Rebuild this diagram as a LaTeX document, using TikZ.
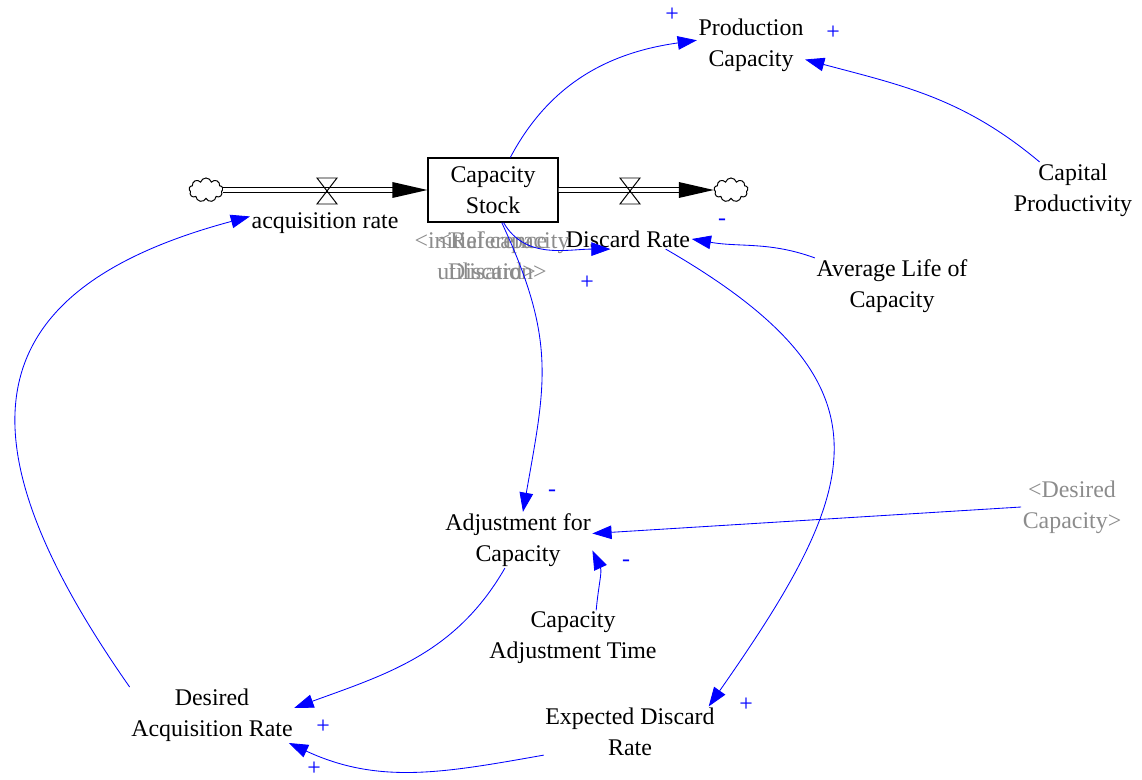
\documentclass[tikz,border=0pt]{standalone}
\usepackage{fontspec}
\setmainfont{Liberation Serif}
\usetikzlibrary{arrows.meta,shapes.symbols,calc}
\definecolor{link}{HTML}{0000FF}
\definecolor{ghost}{HTML}{8C8C8C}

\begin{document}
\begin{tikzpicture}[x=0.025cm, y=-0.025cm,
  v/.style={font=\fontsize{17}{22}\selectfont, align=center, inner sep=1pt},
  g/.style={v, text=ghost},
  lv/.style={v, draw, line width=0.9pt, minimum width=3.25cm, minimum height=1.6cm},
  cl/.style={cloud, cloud puffs=9, draw, line width=0.7pt, minimum width=0.85cm,
    minimum height=0.6cm, inner sep=0pt},
  pipe/.style={double distance=2.6pt, line width=0.7pt},
  lk/.style={-{Triangle[length=4.8mm, width=3.4mm]}, link, line width=0.6pt},
  pol/.style={font=\fontsize{17}{17}\selectfont, text=link, inner sep=0pt}]
  \useasboundingbox (0,0) rectangle (1142,780);

  % stock, clouds and the two flows
  \node[lv] (stock) at (493,190) {Capacity\\Stock};
  \node[cl] (src)  at (206,190) {};
  \node[cl] (sink) at (731,190) {};
  \draw[pipe] (src.east) -- ($(stock.west)+(-30,0)$);
  \fill ($(stock.west)+(-35,-8)$) -- (stock.west) -- ($(stock.west)+(-35,8)$) -- cycle;
  \draw[pipe] (stock.east) -- ($(sink.west)+(-30,0)$);
  \fill ($(sink.west)+(-35,-8)$) -- (sink.west) -- ($(sink.west)+(-35,8)$) -- cycle;
  \foreach \vx in {327,630}
    \draw[line width=0.7pt] (\vx-10,178) -- (\vx+10,178) -- (\vx-10,204) -- (\vx+10,204) -- cycle;

  % variables
  \node[v] (acqrate) at (325,223) {acquisition rate};
  \node[v] (discard) at (628,239) {Discard Rate};
  \node[v] (prodcap) at (751,45)  {Production\\Capacity};
  \node[v] (capprod) at (1073,190) {Capital\\Productivity};
  \node[v] (avglife) at (892,286) {Average Life of\\Capacity};
  \node[v] (adjcap)  at (518,540) {Adjustment for\\Capacity};
  \node[g] (descap)  at (1072,507) {<Desired\\Capacity>};
  \node[v] (adjtime) at (573,638) {Capacity\\Adjustment Time};
  \node[v] (desacq)  at (212,715) {Desired\\Acquisition Rate};
  \node[v] (expdisc) at (630,732) {Expected Discard\\Rate};
  \node[g] (inituse) at (492,256) {<initial capacity\\utilisation>};
  \node[g] (refdisc) at (492,256) {<Reference\\Discard>};

  % causal links
  \draw[lk] (stock.62) to[out=62,in=188] (prodcap.175);
  \draw[lk] (capprod.140) to[out=140,in=-15] (prodcap.-15);
  \draw[lk] (avglife.160) to[out=160,in=-10] (discard.east);
  \draw[lk] (stock.-72) to[out=-60,in=180] (discard.210);
  \draw[lk] (stock.-75) to[out=-65,in=80,looseness=1.15] (adjcap.80);
  \draw[lk] (descap.west) -- (adjcap.5);
  \draw[lk] (adjtime.50) to[out=85,in=-65] (adjcap.-8);
  \draw[lk] (adjcap.-115) to[out=-120,in=20] (desacq.5);
  \draw[lk] (expdisc.195) to[out=190,in=-25] (desacq.-20);
  \draw[lk] (discard.-15) to[out=-30,in=55,looseness=1.5] (expdisc.18);
  \draw[lk] (desacq.north west) to[out=125,in=195,looseness=1.55] (acqrate.175);

  % link polarities
  \foreach \px/\py/\s [count=\i] in {672/15/+, 833/33/+, 722/222/-, 587/283/+,
      552/493/-, 626/563/-, 323/727/+, 314/769/+, 746/705/+}
    \node[pol] (pol\i) at (\px,\py) {\s};
\end{tikzpicture}
\end{document}
